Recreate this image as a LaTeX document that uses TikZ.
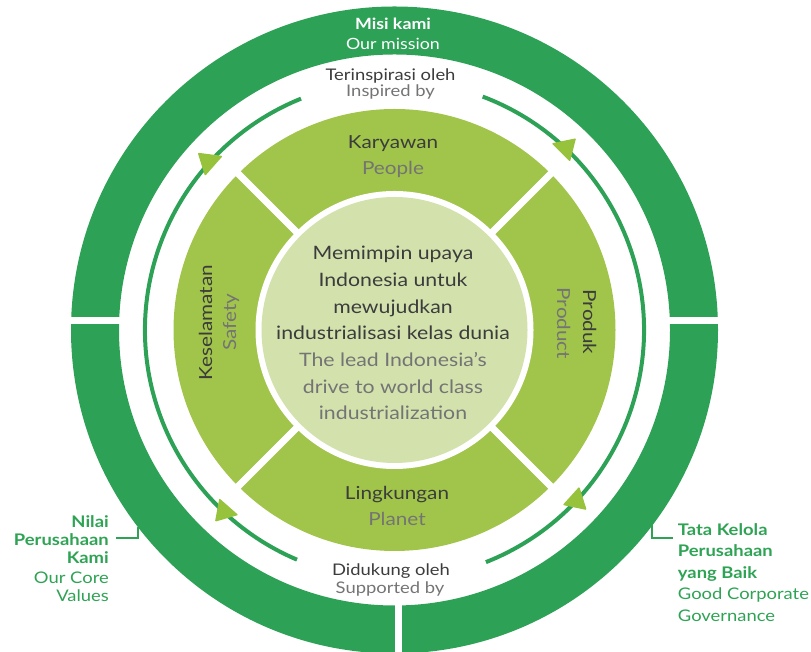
\documentclass[tikz,border=0pt]{standalone}
\usepackage{fontspec}
\setmainfont{Lato}[FakeStretch=1.15]
\definecolor{ringgreen}{HTML}{2DA155}
\definecolor{lime}{HTML}{A1C54B}
\definecolor{arrowlime}{HTML}{97C23C}
\definecolor{pale}{HTML}{D3E2AD}
\definecolor{darktext}{HTML}{3C3C3C}
\definecolor{greytext}{HTML}{747474}
\definecolor{labelgreen}{HTML}{2EA354}
\newcommand{\fsz}[1]{\fontsize{#1}{#1}\selectfont}
\begin{document}
\begin{tikzpicture}[x=1pt,y=1pt,
  txt/.style={inner sep=0pt, anchor=base},
  idtext/.style={txt, text=darktext},
  entext/.style={txt, text=greytext},
  flowarc/.style={draw=ringgreen, line width=4pt},
  flowhead/.style={fill=arrowlime, rounded corners=1pt},
  bracket/.style={draw=labelgreen, line width=2.4pt},
  sidebold/.style={txt, text=labelgreen, font=\bfseries\fsz{16}},
  sideplain/.style={txt, text=labelgreen, font=\fsz{16}}]
\useasboundingbox (0,0) rectangle (811,652);
\coordinate (c) at (394.5,322);

% outer ring, cut into three parts
\begin{scope}
  \clip (0,0) rectangle (811,652);
  \fill[ringgreen, even odd rule] (c) circle[radius=323.5] (c) circle[radius=275.5];
  \fill[white] (60,327.5) rectangle (130,334.5);
  \fill[white] (660,327.5) rectangle (730,334.5);
  \fill[white] (395,-5) rectangle (402,60);
\end{scope}

% flow arcs
\draw[flowarc] ([shift={(112:249.5)}]c) arc[start angle=112, end angle=247, radius=249.5];
\draw[flowarc] ([shift={(69.3:249.5)}]c) arc[start angle=69.3, end angle=-68.5, radius=249.5];

% arrow heads on the arcs
\fill[flowhead] (197.7,499.3) -- (222.7,496) -- (205,476) -- cycle;
\fill[flowhead] (551.7,508.7) -- (576,513.7) -- (570,490.3) -- cycle;
\fill[flowhead] (219.3,153.7) -- (238.3,137) -- (215,130.3) -- cycle;
\fill[flowhead] (579.3,165.3) -- (586.7,142) -- (562.7,147) -- cycle;

% four value segments and the core disc
\fill[lime] (c) circle[radius=221];
\fill[white] (c) circle[radius=139];
\fill[pale] (c) circle[radius=133];
\foreach \a in {45,135,225,315}
  \draw[white, line width=7pt] ([shift={(\a:138)}]c) -- ([shift={(\a:223)}]c);

% mission
\node[txt, white, font=\bfseries\fsz{15.5}] (misi) at (393,622) {Misi kami};
\node[txt, white, font=\fsz{15.5}] (mission) at (393,602) {Our mission};
\node[idtext, font=\fsz{16}] (insp) at (390.5,571) {Terinspirasi oleh};
\node[entext, font=\fsz{16}] (inspen) at (390.5,555) {Inspired by};

% segments
\node[idtext, font=\fsz{18}] (karyawan) at (393,503) {Karyawan};
\node[entext, font=\fsz{18}] (people) at (393,477) {People};
\node[idtext, font=\fsz{18}] (lingkungan) at (397,152) {Lingkungan};
\node[entext, font=\fsz{18}] (planet) at (397,126) {Planet};
\node[idtext, font=\fsz{18}, rotate=90] (kesel) at (212,329.5) {Keselamatan};
\node[entext, font=\fsz{18}, rotate=90] (safety) at (236,330) {Safety};
\node[idtext, font=\fsz{18}, rotate=-90] (produk) at (583,330) {Produk};
\node[entext, font=\fsz{18}, rotate=-90] (product) at (557,328.5) {Product};

% core statement
\begin{scope}[every node/.append style={font=\fsz{18.5}}]
  \node[idtext] (m1) at (393,392) {Memimpin upaya};
  \node[idtext] (m2) at (393,365.3) {Indonesia untuk};
  \node[idtext] (m3) at (393,338.7) {mewujudkan};
  \node[idtext] (m4) at (393,312) {industrialisasi kelas dunia};
  \node[entext] (e1) at (393,285.3) {The lead Indonesia’s};
  \node[entext] (e2) at (393,258.7) {drive to world class};
  \node[entext] (e3) at (393,232) {industrialization};
\end{scope}

% support
\node[idtext, font=\fsz{16}] (dukung) at (391,76) {Didukung oleh};
\node[entext, font=\fsz{16}] (support) at (390,58.5) {Supported by};

% core values label
\node[sidebold, anchor=base east] (nv1) at (109,124.3) {Nilai};
\node[sidebold, anchor=base east] (nv2) at (109,106.3) {Perusahaan};
\node[sidebold, anchor=base east] (nv3) at (109,88) {Kami};
\node[sideplain, anchor=base east] (nv4) at (109,68) {Our Core};
\node[sideplain, anchor=base east] (nv5) at (109,50.3) {Values};
\coordinate (lb1) at (116,114);
\coordinate (lb2) at (138,114);
\coordinate (lb3) at (138,125);
\draw[bracket] (lb1) -- (lb2) -- (lb3);

% governance label
\node[sidebold, anchor=base west] (gv1) at (677.7,116) {Tata Kelola};
\node[sidebold, anchor=base west] (gv2) at (677.7,95.3) {Perusahaan};
\node[sidebold, anchor=base west] (gv3) at (677.7,73) {yang Baik};
\node[sideplain, anchor=base west] (gv4) at (677.7,52) {Good Corporate};
\node[sideplain, anchor=base west] (gv5) at (677.7,30.3) {Governance};
\coordinate (rb1) at (673,114);
\coordinate (rb2) at (652,114);
\coordinate (rb3) at (652,128);
\draw[bracket] (rb1) -- (rb2) -- (rb3);
\end{tikzpicture}
\end{document}
